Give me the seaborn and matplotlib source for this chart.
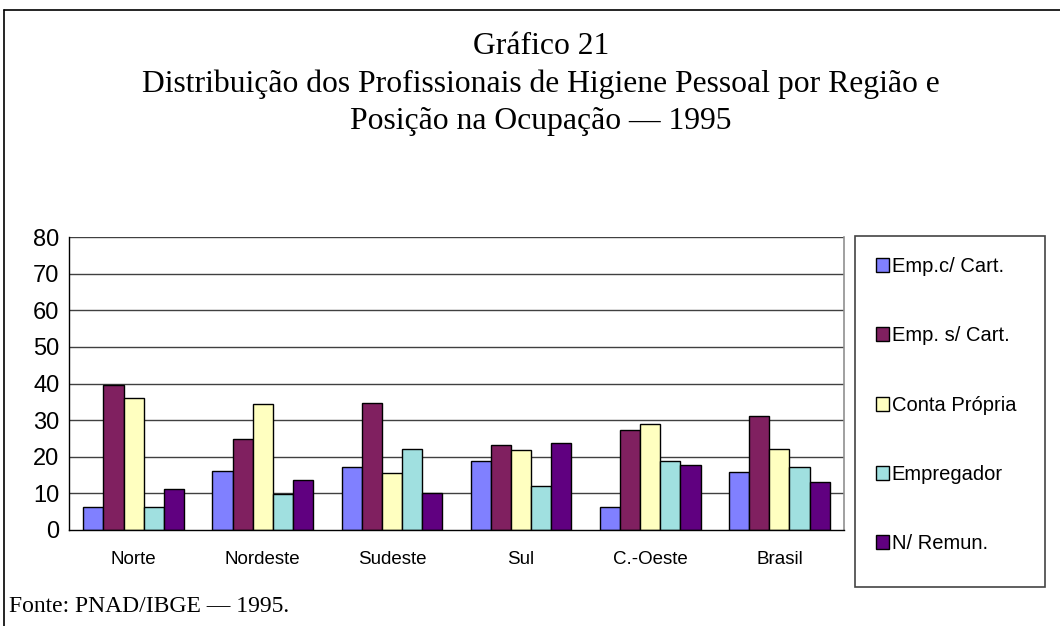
import matplotlib
matplotlib.use('Agg')
import matplotlib.pyplot as plt
from matplotlib.patches import Patch, Rectangle
from matplotlib.lines import Line2D
import seaborn as sns
import pandas as pd

# ---- data ----
regions = ["Norte", "Nordeste", "Sudeste", "Sul", "C.-Oeste", "Brasil"]
positions = ["Emp.c/ Cart.", "Emp. s/ Cart.", "Conta Própria", "Empregador", "N/ Remun."]
emp_c_cart = [6.4, 16.2, 17.1, 18.8, 6.4, 15.7]
emp_s_cart = [39.6, 24.8, 34.6, 23.3, 27.3, 31.0]
conta_propria = [36.0, 34.5, 15.5, 21.9, 28.9, 22.2]
empregador = [6.4, 9.7, 22.2, 12.0, 18.8, 17.1]
n_remun = [11.2, 13.7, 10.0, 23.8, 17.7, 13.0]
y_ticks = [0, 10, 20, 30, 40, 50, 60, 70, 80]

title_lines = ["Gráfico 21",
               "Distribuição dos Profissionais de Higiene Pessoal por Região e",
               "Posição na Ocupação — 1995"]
source = "Fonte: PNAD/IBGE — 1995."

colors = ["#8080FF", "#802060", "#FFFFC0", "#A0E0E0", "#600080"]

series = [emp_c_cart, emp_s_cart, conta_propria, empregador, n_remun]
rows = []
for pos, vals in zip(positions, series):
    for reg, v in zip(regions, vals):
        rows.append({"Região": reg, "Posição": pos, "Valor": v})
df = pd.DataFrame(rows)

sns.set_style("white")
plt.rcParams['font.family'] = ['Liberation Sans', 'DejaVu Sans']
plt.rcParams['text.color'] = 'black'
plt.rcParams['xtick.color'] = 'black'
plt.rcParams['ytick.color'] = 'black'
plt.rcParams['axes.labelcolor'] = 'black'

W, H = 1060, 626
fig = plt.figure(figsize=(W / 100, H / 100), dpi=100)

def fx(px):
    return px / W

def fy(py):
    return 1 - py / H

ax = fig.add_axes([fx(69), fy(530), fx(844) - fx(69), fy(237) - fy(530)])

sns.barplot(data=df, x="Região", y="Valor", hue="Posição", order=regions,
            hue_order=positions, palette=colors, saturation=1, width=0.78,
            edgecolor="black", linewidth=1.0, legend=False, ax=ax, zorder=3)

ax.set_xlim(-0.5, len(regions) - 0.5)
ax.set_ylim(0, 80)
ax.set_yticks(y_ticks)
ax.set_yticklabels([str(t) for t in y_ticks], fontsize=17)
ax.set_xlabel("")
ax.set_ylabel("")
ax.set_xticks(range(len(regions)))
ax.set_xticklabels(regions, fontsize=13.5)
ax.set_xticks([i - 0.5 for i in range(len(regions) + 1)], minor=True)
ax.tick_params(axis='x', which='major', length=0, pad=15)
ax.tick_params(axis='x', which='minor', length=5, width=1, color='#333333', direction='out')
ax.tick_params(axis='y', length=5, width=1, color='black', direction='out', pad=2)

for t in y_ticks[1:]:
    ax.axhline(t, color='#404040', linewidth=1.0, zorder=1)

ax.spines['top'].set_visible(False)
ax.spines['right'].set_color('#909090')
ax.spines['right'].set_linewidth(1.2)
ax.spines['left'].set_color('black')
ax.spines['left'].set_linewidth(1.0)
ax.spines['bottom'].set_color('black')
ax.spines['bottom'].set_linewidth(1.0)
ax.spines['bottom'].set_zorder(4)

# ---- titles ----
for text, ypx in zip(title_lines, [46, 84, 121]):
    fig.text(fx(541), fy(ypx), text, ha='center', va='center', fontsize=22.8,
             family=['Liberation Serif', 'DejaVu Serif'])

fig.text(fx(9), fy(607), source, ha='left', va='center', fontsize=17,
         family=['Liberation Serif', 'DejaVu Serif'])

# ---- outer border lines (left and top) ----
fig.add_artist(Line2D([fx(4), fx(4)], [fy(10), 0], color='black', linewidth=1.2,
                      transform=fig.transFigure))
fig.add_artist(Line2D([fx(4), 1], [fy(10), fy(10)], color='black', linewidth=1.2,
                      transform=fig.transFigure))

# ---- legend box ----
fig.add_artist(Rectangle((fx(855), fy(587)), fx(1045) - fx(855), fy(236) - fy(587),
                         transform=fig.transFigure, facecolor='white',
                         edgecolor='#444444', linewidth=1.2))
handles = [Patch(facecolor=c, edgecolor='black', linewidth=1.0) for c in colors]
leg = fig.legend(handles, positions, loc='upper left',
                 bbox_to_anchor=(fx(876), fy(257)), frameon=False, fontsize=14.5,
                 handlelength=0.65, handleheight=0.7, handletextpad=0.12,
                 labelspacing=2.5, borderaxespad=0, borderpad=0)

fig.savefig("out.png", dpi=100)
